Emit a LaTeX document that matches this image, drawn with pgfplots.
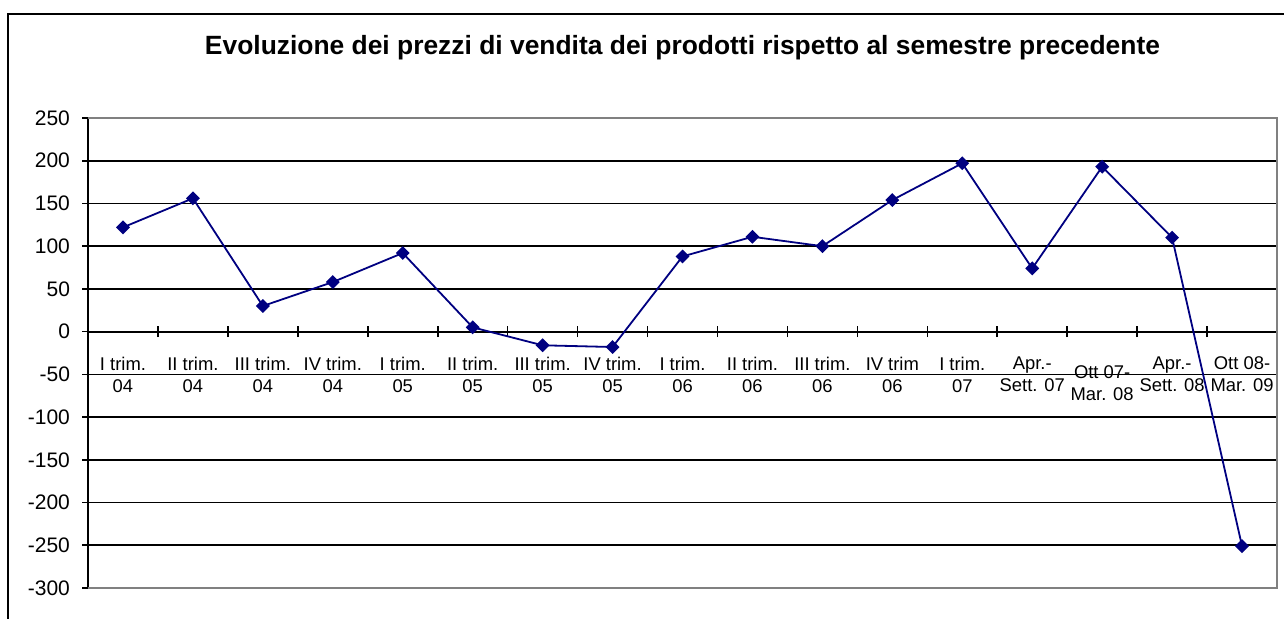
\documentclass[border=0pt]{standalone}
\usepackage{fontspec}
\setmainfont{Liberation Sans}
\usepackage{pgfplots}
\pgfplotsset{compat=1.18}
\definecolor{navy}{RGB}{0,0,128}
\definecolor{framegray}{RGB}{128,128,128}

\begin{document}
\begin{tikzpicture}
\path[use as bounding box] (0pt,0pt) rectangle (642pt,309.5pt);
% outer chart frame (only left and top edges visible)
\draw[line width=1pt] (4pt,0pt) -- (4pt,302.5pt) -- (642pt,302.5pt);
\node[font=\bfseries\fontsize{13.2}{15}\selectfont, anchor=base] at (341.25pt,282pt)
  {Evoluzione dei prezzi di vendita dei prodotti rispetto al semestre precedente};
\begin{axis}[
  at={(44pt,15.5pt)}, anchor=south west,
  width=594.5pt, height=235pt, scale only axis,
  xmin=0.5, xmax=17.5, ymin=-300, ymax=250,
  axis x line=middle, axis y line=left,
  axis line style={-, black, line width=1pt},
  every inner x axis line/.append style={-},
  every outer y axis line/.append style={-},
  hide obscured x ticks=false, hide obscured y ticks=false,
  ytick={-300,-250,...,250},
  ymajorgrids, grid style={black, line width=0.8pt},
  tick align=center,
  major tick length=3pt, minor tick length=5.5pt,
  tick style={black, line width=0.8pt},
  every major y tick/.append style={xshift=-1.5pt},
  every major x tick/.append style={draw=none},
  xtick={1,...,14,16,17},
  minor xtick={0.5,1.5,...,17.5},
  xticklabels={{I trim.\\04},{II trim.\\04},{III trim.\\04},{IV trim.\\04},
    {I trim.\\05},{II trim.\\05},{III trim.\\05},{IV trim.\\05},
    {I trim.\\06},{II trim.\\06},{III trim.\\06},{IV trim\\06},
    {I trim.\\07},{Apr.-\\Sett. 07},{Apr.-\\Sett. 08},{Ott 08-\\Mar. 09}},
  extra x ticks={15},
  extra x tick labels={{Ott 07-\\Mar. 08}},
  extra x tick style={xticklabel style={yshift=-4.5pt}},
  xticklabel style={align=center, font=\fontsize{9.2}{11}\selectfont, yshift=-7.5pt},
  yticklabel style={font=\fontsize{10.5}{12}\selectfont, xshift=-4pt},
  /pgf/number format/assume math mode=true,
  clip=false,
]
\addplot[navy, line width=0.9pt, mark=square*, mark size=2pt,
  mark options={rotate=45, solid, fill=navy}] coordinates {
  (1,122) (2,156) (3,30) (4,58) (5,92) (6,5) (7,-16) (8,-18) (9,88)
  (10,111) (11,100) (12,154) (13,197) (14,74) (15,193) (16,110) (17,-251)
};
\draw[framegray, line width=1pt] (rel axis cs:0,1) -- (rel axis cs:1,1) -- (rel axis cs:1,0) -- (rel axis cs:0,0);
\end{axis}
\end{tikzpicture}
\end{document}
